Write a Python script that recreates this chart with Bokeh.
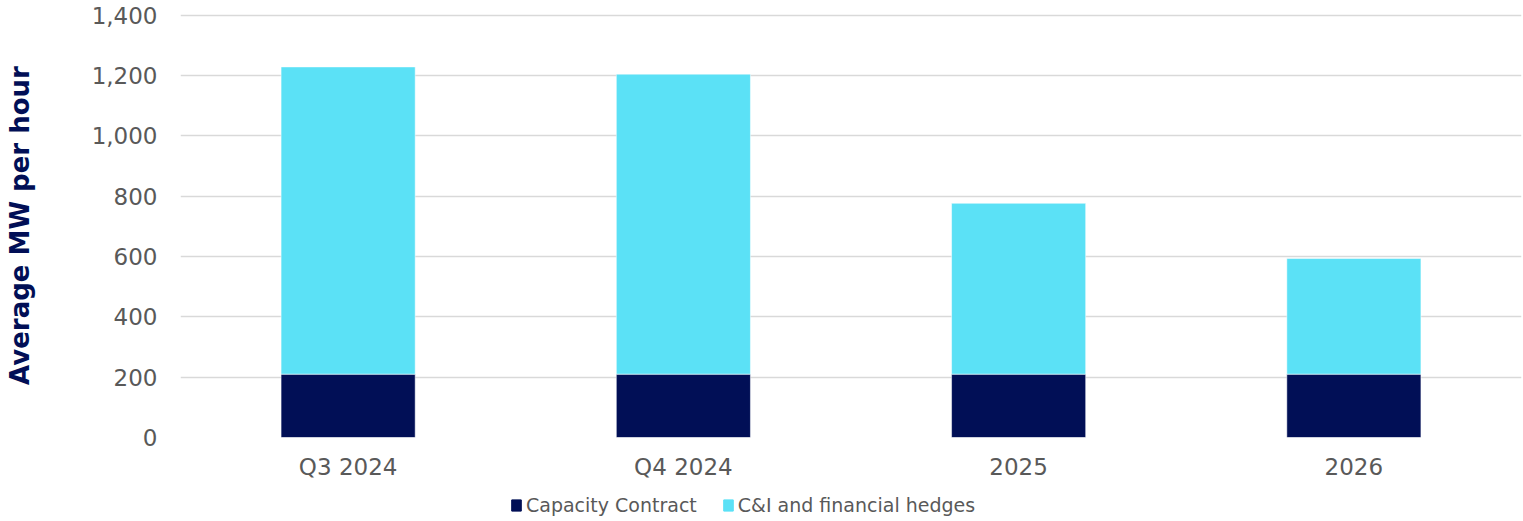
from bokeh.plotting import figure
from bokeh.layouts import column
from bokeh.models import ColumnDataSource, FactorRange, Range1d, Legend, LegendItem, NumeralTickFormatter, FixedTicker
from bokeh.embed import file_html
from bokeh.resources import INLINE

categories = ["Q3 2024", "Q4 2024", "2025", "2026"]
capacity_contract = [210, 210, 210, 210]
ci_financial_hedges = [1018, 994, 566, 383]
series_names = ["Capacity Contract", "C&I and financial hedges"]
y_ticks = [0, 200, 400, 600, 800, 1000, 1200, 1400]

NAVY = "#010F56"
CYAN = "#5BE1F6"
GRAY = "#595959"

src = ColumnDataSource(dict(cat=categories, cap=capacity_contract, ci=ci_financial_hedges))

p = figure(x_range=FactorRange(*categories, range_padding=0), y_range=Range1d(0, 1405),
           width=1523, height=492, output_backend="svg", toolbar_location=None,
           min_border_left=180, min_border_right=2, min_border_top=13, min_border_bottom=55)

r = p.vbar_stack(["cap", "ci"], x="cat", width=0.4, source=src, color=[NAVY, CYAN],
                 line_color="white", line_width=0.5)

p.outline_line_color = None
p.xgrid.grid_line_color = None
p.ygrid.grid_line_color = "#D9D9D9"
p.ygrid.grid_line_width = 1.5
p.yaxis.ticker = FixedTicker(ticks=y_ticks)
p.yaxis.formatter = NumeralTickFormatter(format="0,0")

for ax in (p.xaxis[0], p.yaxis[0]):
    ax.axis_line_color = None
    ax.major_tick_line_color = None
    ax.minor_tick_line_color = None
    ax.major_tick_out = 0
    ax.major_tick_in = 0
    ax.major_label_text_font = "DejaVu Sans"
    ax.major_label_text_font_size = "23px"
    ax.major_label_text_color = GRAY

p.yaxis.major_label_standoff = 23
p.xaxis.major_label_standoff = 16
p.yaxis.axis_label = "Average MW per hour"
p.yaxis.axis_label_text_font = "DejaVu Sans"
p.yaxis.axis_label_text_font_style = "bold"
p.yaxis.axis_label_text_font_size = "26px"
p.yaxis.axis_label_text_color = NAVY
p.yaxis.axis_label_standoff = 54

# Legend strip below the chart (its swatches use the series colours; data lie outside the view)
lg = figure(width=1523, height=29, output_backend="svg", toolbar_location=None,
            x_range=Range1d(0, 1), y_range=Range1d(0, 1), x_axis_type=None, y_axis_type=None,
            min_border=0, outline_line_color=None)
lg.grid.visible = False
hidden = ColumnDataSource(dict(x=[-10], top=[-10]))
r0 = lg.vbar(x="x", top="top", bottom=-9, width=0.1, source=hidden, color=NAVY)
r1 = lg.vbar(x="x", top="top", bottom=-9, width=0.1, source=hidden, color=CYAN)

legend = Legend(items=[LegendItem(label=series_names[0], renderers=[r0]),
                       LegendItem(label=series_names[1], renderers=[r1])],
                orientation="horizontal", location=(330, 5),
                glyph_width=12, glyph_height=14, label_standoff=4, spacing=25,
                padding=0, margin=0, border_line_color=None, background_fill_alpha=0,
                label_text_font="DejaVu Sans", label_text_font_size="19px",
                label_text_color=GRAY, label_height=20)
lg.add_layout(legend, "center")

layout = column(p, lg, spacing=0)
open("out.html", "w").write(file_html(layout, INLINE))
